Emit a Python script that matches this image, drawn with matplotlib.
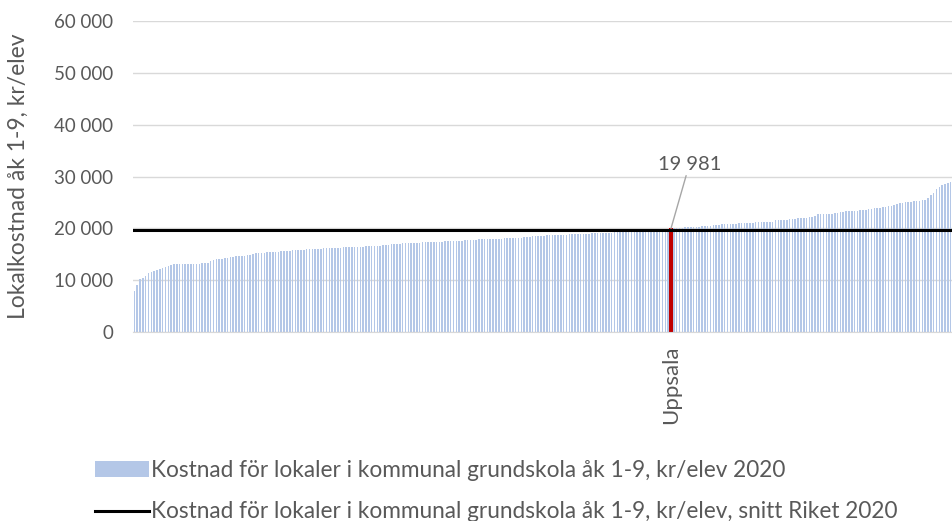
import matplotlib
matplotlib.use("Agg")
import matplotlib.pyplot as plt
from matplotlib.patches import Patch
from matplotlib.lines import Line2D
from matplotlib.ticker import FuncFormatter

# Kostnad för lokaler per kommun, sorterat stigande (kr/elev 2020)
values = [
    7950, 9050, 10200, 10450, 10850, 11350, 11650, 11800, 12000, 12100,
    12300, 12550, 12750, 12900, 13050, 13100, 13150, 13150, 13150, 13200,
    13200, 13200, 13200, 13200, 13250, 13250, 13300, 13700, 13900, 14000,
    14050, 14100, 14300, 14350, 14450, 14550, 14600, 14650, 14700, 14750,
    14800, 14850, 15100, 15150, 15250, 15300, 15320, 15350, 15400, 15500,
    15510, 15530, 15550, 15580, 15620, 15680, 15730, 15770, 15810, 15850,
    15900, 15920, 15940, 15950, 15960, 16000, 16080, 16150, 16170, 16190,
    16210, 16220, 16260, 16300, 16340, 16360, 16380, 16400, 16410, 16430,
    16450, 16470, 16500, 16540, 16580, 16600, 16640, 16680, 16720, 16750,
    16850, 16950, 17000, 17030, 17050, 17080, 17120, 17140, 17160, 17180,
    17220, 17260, 17300, 17350, 17370, 17370, 17380, 17380, 17390, 17400,
    17480, 17550, 17570, 17590, 17610, 17630, 17650, 17670, 17690, 17720,
    17780, 17840, 17880, 17880, 17890, 17890, 17900, 17930, 17970, 18000,
    18020, 18040, 18060, 18080, 18100, 18110, 18130, 18150, 18250, 18350,
    18400, 18440, 18460, 18500, 18540, 18580, 18620, 18650, 18680, 18700,
    18730, 18760, 18780, 18810, 18840, 18860, 18900, 18920, 18940, 18960,
    18980, 19000, 19020, 19040, 19060, 19080, 19100, 19120, 19150, 19180,
    19200, 19230, 19260, 19290, 19320, 19350, 19380, 19410, 19440, 19470,
    19500, 19530, 19560, 19590, 19620, 19650, 19690, 19730, 19780, 19840,
    19981, 20050, 20130, 20150, 20160, 20170, 20180, 20190, 20220, 20260,
    20320, 20360, 20400, 20430, 20450, 20580, 20690, 20720, 20750, 20780,
    20810, 20840, 20880, 20920, 20960, 21000, 21040, 21070, 21090, 21110,
    21130, 21150, 21180, 21210, 21250, 21280, 21300, 21580, 21600, 21630,
    21660, 21700, 21730, 21780, 21840, 21900, 21940, 21990, 22050, 22180,
    22280, 22370, 22690, 22690, 22690, 22700, 22720, 22820, 23000, 23050,
    23100, 23200, 23300, 23330, 23360, 23400, 23440, 23480, 23530, 23590,
    23640, 23700, 23850, 23900, 23970, 24050, 24170, 24300, 24350, 24420,
    24620, 24900, 24950, 25050, 25130, 25150, 25200, 25250, 25300, 25400,
    25510, 25900, 26350, 26730, 27630, 27950, 28270, 28590, 28780, 29000,
]
highlight_index = 190
highlight_name = "Uppsala"
riket_snitt = 19600
y_ticks = [0, 10000, 20000, 30000, 40000, 50000, 60000]

bar_label = "Kostnad för lokaler i kommunal grundskola åk 1-9, kr/elev 2020"
line_label = "Kostnad för lokaler i kommunal grundskola åk 1-9, kr/elev, snitt Riket 2020"
y_label = "Lokalkostnad åk 1-9, kr/elev"

plt.rcParams["font.family"] = ["Lato", "DejaVu Sans"]
text_color = "#595959"
bar_color = "#b4c7e7"

fig = plt.figure(figsize=(9.53, 5.21), dpi=100)
ax = fig.add_axes([133 / 953, 1 - 332 / 521, 819 / 953, 311 / 521])

x = list(range(len(values)))
colors = [bar_color] * len(values)
colors[highlight_index] = "#c00000"
widths = [0.55] * len(values)
widths[highlight_index] = 1.2
ax.bar(x, values, width=widths, color=colors, zorder=2)
ax.axhline(riket_snitt, color="black", linewidth=2.2, zorder=3)

ax.set_xlim(-0.5, len(values) - 0.5)
ax.set_ylim(0, 60000)
ax.set_yticks(y_ticks)
ax.yaxis.set_major_formatter(FuncFormatter(lambda v, p: f"{int(v):,}".replace(",", " ")))
ax.grid(axis="y", color="#d9d9d9", linewidth=1.0, zorder=0)
ax.set_xticks([highlight_index])
ax.set_xticklabels([highlight_name], rotation=90, color=text_color, fontsize=16)
ax.tick_params(axis="y", length=0, labelcolor=text_color, labelsize=13.5, pad=14)
ax.tick_params(axis="x", length=0, labelcolor=text_color, pad=10)
for side in ["top", "right", "left"]:
    ax.spines[side].set_visible(False)
ax.spines["bottom"].set_color("#d9d9d9")
fig.text(18 / 953, 1 - 176 / 521, y_label, rotation=90, ha="center", va="center",
         color=text_color, fontsize=16.5)

# etikett med hänvisningslinje
ax.annotate(f"{values[highlight_index]:,}".replace(",", " "),
            xy=(highlight_index, values[highlight_index]),
            xytext=(highlight_index + 6.5, 30700),
            ha="center", va="bottom", fontsize=14.5, color=text_color,
            arrowprops=dict(arrowstyle="-", color="#a6a6a6", linewidth=1.0,
                            shrinkA=0, shrinkB=0))

handles = [Patch(facecolor=bar_color, edgecolor="none"),
           Line2D([0], [0], color="black", linewidth=2.2)]
fig.legend(handles, [bar_label, line_label], loc="upper left",
           bbox_to_anchor=(86 / 953, 1 - 451 / 521), frameon=False,
           fontsize=16.3, labelcolor=text_color, handlelength=2.4,
           handletextpad=0.08, labelspacing=0.9, borderaxespad=0)

fig.savefig("out.png", dpi=100)
